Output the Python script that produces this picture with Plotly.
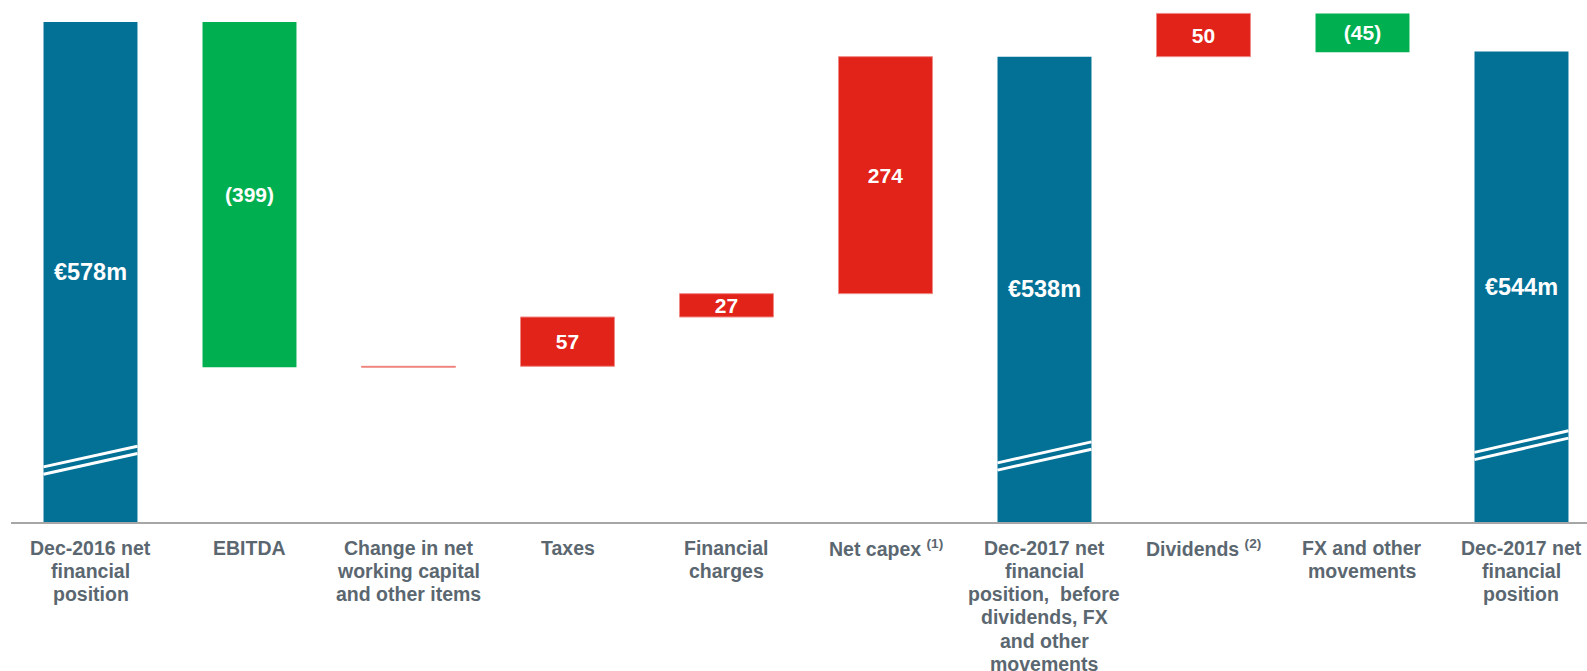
import plotly.graph_objects as go

categories = ["Dec-2016", "EBITDA", "NWC", "Taxes", "Financial charges", "Net capex",
              "Dec-2017 before", "Dividends", "FX", "Dec-2017"]
tick_labels = [
    "Dec-2016 net<br>financial<br>position",
    "EBITDA",
    "Change in net<br>working capital<br>and other items",
    "Taxes",
    "Financial<br>charges",
    "Net capex <sup>(1)</sup>",
    "Dec-2017 net<br>financial<br>position,  before<br>dividends, FX<br>and other<br>movements",
    "Dividends <sup>(2)</sup>",
    "FX and other<br>movements",
    "Dec-2017 net<br>financial<br>position",
]
measures = ["absolute", "relative", "relative", "relative", "relative", "relative",
            "absolute", "relative", "relative", "absolute"]
values = [578, -399, 1, 57, 27, 274, 538, 50, -45, 544]
bar_text = ["€578m", "(399)", "", "57", "27", "274", "€538m", "50", "(45)", "€544m"]

# decorative axis-break marks on total bars
break_bars = [0, 6, 9]
break_left = [59.5, 64.2, 76.3]
break_right = [83.3, 88.4, 101.2]
break_half_gap = 4.2

BLUE = "#037096"
GREEN = "#00B050"
RED = "#E2231A"
GREY_TXT = "#5B6770"
FONT = "Liberation Sans, Arial, sans-serif"

text_sizes = [23.5 if m == "absolute" else 21 for m in measures]

fig = go.Figure(go.Waterfall(
    x=categories,
    y=values,
    measure=measures,
    text=bar_text,
    textposition="inside",
    insidetextanchor="middle",
    constraintext="none",
    textfont=dict(family=FONT, size=text_sizes, color="white", weight="bold"),
    increasing=dict(marker=dict(color=RED, line=dict(color="#F08A85", width=1))),
    decreasing=dict(marker=dict(color=GREEN, line=dict(color=GREEN, width=0))),
    totals=dict(marker=dict(color=BLUE, line=dict(color=BLUE, width=0))),
    connector=dict(visible=False),
    hoverinfo="skip",
    cliponaxis=False,
))

half_w = 0.2956
shapes = []
for i, yl, yr in zip(break_bars, break_left, break_right):
    for d in (-break_half_gap, break_half_gap):
        shapes.append(dict(type="line", xref="x", yref="y",
                           x0=i - half_w, x1=i + half_w, y0=yl + d, y1=yr + d,
                           line=dict(color="white", width=3)))

# category labels, one annotation per line for tight line spacing
annotations = []
LINE_H = 23.3
for cat, lab in zip(categories, tick_labels):
    for k, line in enumerate(lab.split("<br>")):
        annotations.append(dict(
            x=cat, xref="x", y=0, yref="paper",
            text=line, showarrow=False,
            xanchor="center", yanchor="middle",
            yshift=-(25.5 + LINE_H * k),
            font=dict(family=FONT, size=19.5, color=GREY_TXT, weight="bold"),
        ))

fig.update_layout(
    width=1587, height=671,
    margin=dict(l=11, r=0, t=0, b=149),
    plot_bgcolor="white", paper_bgcolor="white",
    waterfallgap=0.409,
    showlegend=False,
    shapes=shapes,
    annotations=annotations,
    xaxis=dict(
        type="category",
        range=[-0.5, 9.412],
        showticklabels=False,
        showline=True, linecolor="#A6A6A6", linewidth=1.5,
        showgrid=False, zeroline=False, ticks="",
    ),
    yaxis=dict(
        range=[0, 603.5],
        visible=False,
        showgrid=False, zeroline=False,
    ),
)

fig.write_html("out.html", config={"displayModeBar": False},
               post_script="document.body.style.margin='0';document.body.style.overflow='hidden';")
